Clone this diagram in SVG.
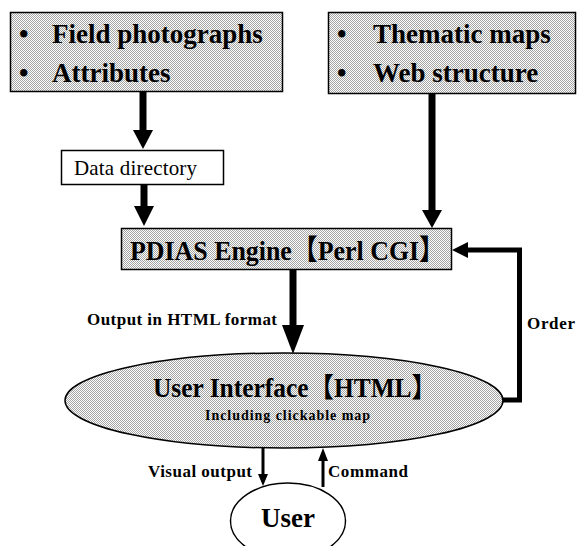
<svg xmlns="http://www.w3.org/2000/svg" width="578" height="546" viewBox="0 0 578 546">
<defs>
<pattern id="dots" width="2" height="2" patternUnits="userSpaceOnUse">
<rect width="2" height="2" fill="#ffffff"/>
<rect width="1" height="1" fill="#a4a4a4"/>
<rect x="1" y="1" width="1" height="1" fill="#a4a4a4"/>
</pattern>
<style>
.t{font-family:"Liberation Serif","Noto Sans CJK JP",serif;fill:#000}
.b{font-weight:bold}
.box{fill:url(#dots);stroke:#000;stroke-width:1.5}
.plain{fill:#fff;stroke:#000;stroke-width:1.5}
.ln{stroke:#000;fill:none}
.hd{fill:#000}
.lbl{font-size:17px}
</style>
</defs>
<rect width="578" height="546" fill="#fff"/>

<g id="node-sources-left">
<rect class="box" x="10.5" y="12.5" width="272" height="79"/>
<text class="t b" x="19" y="43" font-size="27">•</text>
<text class="t b" x="52" y="43" font-size="27">Field photographs</text>
<text class="t b" x="19" y="82" font-size="27">•</text>
<text class="t b" x="52" y="82" font-size="27">Attributes</text>
</g>

<g id="node-sources-right">
<rect class="box" x="328.5" y="12.5" width="247" height="81"/>
<text class="t b" x="337" y="43" font-size="27">•</text>
<text class="t b" x="373" y="43" font-size="27">Thematic maps</text>
<text class="t b" x="337" y="82" font-size="27">•</text>
<text class="t b" x="373" y="82" font-size="27">Web structure</text>
</g>

<g id="node-data-directory">
<rect class="plain" x="61.5" y="150.5" width="162" height="34"/>
<text class="t" x="74" y="175" font-size="21" textLength="123">Data directory</text>
</g>

<g id="node-engine">
<rect class="box" x="121.5" y="228.5" width="330" height="41"/>
<text class="t b" x="130" y="260" font-size="28" textLength="315" lengthAdjust="spacingAndGlyphs">PDIAS Engine【Perl CGI】</text>
</g>

<g id="node-ui">
<ellipse class="box" cx="284" cy="400.5" rx="219" ry="47.5"/>
<text class="t b" x="153" y="397" font-size="27" textLength="284" lengthAdjust="spacingAndGlyphs">User Interface【HTML】</text>
<text class="t b" x="205" y="420" font-size="14" textLength="165">Including clickable map</text>
</g>

<g id="node-user">
<ellipse class="plain" cx="288" cy="521" rx="57.5" ry="38"/>
<text class="t b" x="288" y="527" font-size="27" text-anchor="middle">User</text>
</g>

<g id="connectors">
<line class="ln" x1="143" y1="92" x2="143" y2="132" stroke-width="7"/>
<polygon class="hd" points="133,130 153,130 143,149"/>
<line class="ln" x1="144" y1="185" x2="144" y2="208" stroke-width="7"/>
<polygon class="hd" points="134,206 154,206 144,226"/>
<line class="ln" x1="432" y1="94" x2="432" y2="212" stroke-width="7"/>
<polygon class="hd" points="422,210 442,210 432,228"/>
<line class="ln" x1="293" y1="270" x2="293" y2="327" stroke-width="7"/>
<polygon class="hd" points="282,325 304,325 293,354"/>
<polyline class="ln" points="503,400 519.5,400 519.5,250 466,250" stroke-width="5"/>
<polygon class="hd" points="468,242 468,258 452,250"/>
<line class="ln" x1="263" y1="448" x2="263" y2="476" stroke-width="3"/>
<polygon class="hd" points="258,474 268,474 263,486"/>
<line class="ln" x1="323" y1="487" x2="323" y2="459" stroke-width="3"/>
<polygon class="hd" points="318,461 328,461 323,448"/>
<text class="t b lbl" x="87" y="325" textLength="190">Output in HTML format</text>
<text class="t b lbl" x="527" y="329" textLength="48">Order</text>
<text class="t b lbl" x="148" y="477" textLength="104">Visual output</text>
<text class="t b lbl" x="328" y="477" textLength="80">Command</text>
</g>
</svg>
